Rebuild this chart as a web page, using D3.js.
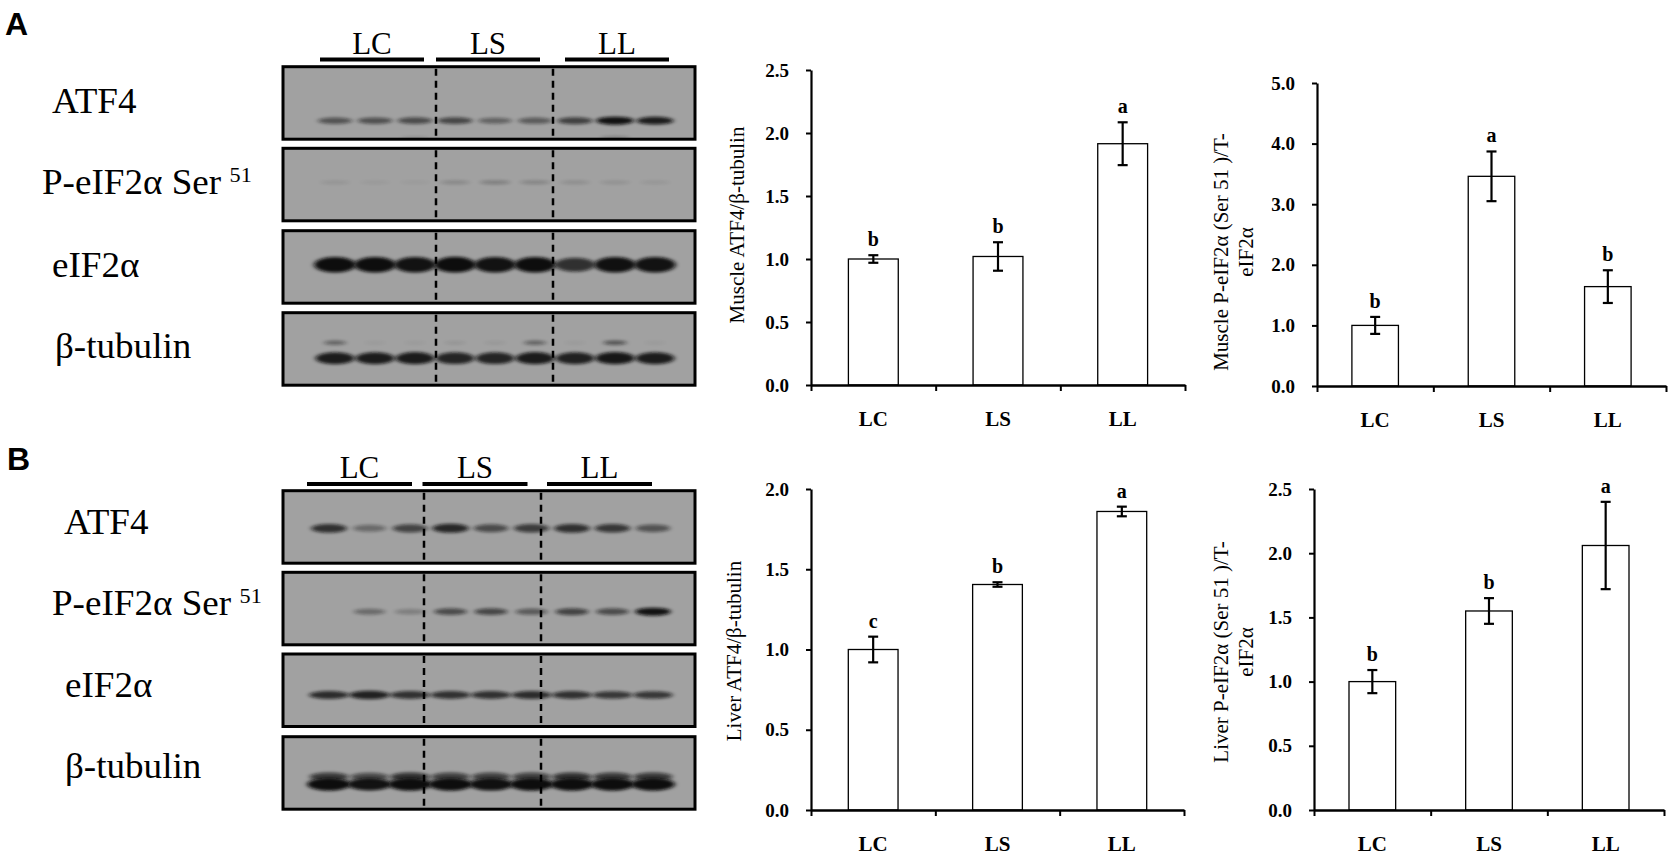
<!DOCTYPE html>
<html><head><meta charset="utf-8">
<script src="https://cdn.jsdelivr.net/npm/d3@7"></script>
<style>body{margin:0;background:#fff} svg{display:block} .serif{font-family:"Liberation Serif","Times New Roman",serif}</style>
</head><body>
<svg id="fig" width="1675" height="857"></svg>
<script>
// ---------- data ----------
const groups = ["LC","LS","LL"];
const lanes = ["LC1","LC2","LC3","LS1","LS2","LS3","LL1","LL2","LL3"];
const blotRowNames = ["ATF4","P-eIF2α Ser","eIF2α","β-tubulin"];
const superscript = "51";

// bar charts: mean, SEM, significance letters
const muscleATF4 = [1.00, 1.02, 1.915];
const muscleATF4Err = [0.03, 0.113, 0.17];
const muscleATF4Sig = ["b","b","a"];
const musclePeIF2 = [1.00, 3.46, 1.64];
const musclePeIF2Err = [0.14, 0.41, 0.27];
const musclePeIF2Sig = ["b","a","b"];
const liverATF4 = [1.00, 1.405, 1.86];
const liverATF4Err = [0.08, 0.014, 0.03];
const liverATF4Sig = ["c","b","a"];
const liverPeIF2 = [1.00, 1.55, 2.06];
const liverPeIF2Err = [0.09, 0.10, 0.34];
const liverPeIF2Sig = ["b","b","a"];

// tick values
const ticksA1 = [0,0.5,1.0,1.5,2.0,2.5];
const ticksA2 = [0,1,2,3,4,5];
const ticksB1 = [0,0.5,1.0,1.5,2.0];
const ticksB2 = [0,0.5,1.0,1.5,2.0,2.5];

// blot band densities (0-1), lanes LC1..LL3
const mATF4      = [0.50,0.52,0.55,0.58,0.40,0.45,0.62,0.92,0.85];
const mATF4Minor = [0.00,0.00,0.12,0.00,0.00,0.00,0.00,0.22,0.00];
const mPeIF2     = [0.08,0.05,0.04,0.16,0.22,0.18,0.12,0.10,0.07];
const mEIF2      = [0.95,0.95,0.92,0.96,0.92,0.95,0.72,0.93,0.92];
const mTub       = [0.85,0.85,0.86,0.80,0.80,0.86,0.82,0.88,0.85];
const mTubMinor  = [0.40,0.04,0.04,0.08,0.06,0.40,0.04,0.50,0.04];
const lATF4      = [0.72,0.35,0.60,0.78,0.55,0.65,0.72,0.68,0.50];
const lPeIF2     = [0.00,0.35,0.22,0.55,0.58,0.45,0.60,0.55,0.92];
const lEIF2      = [0.75,0.82,0.72,0.72,0.72,0.75,0.72,0.68,0.68];
const lTub       = [0.95,0.92,0.95,0.95,0.93,0.95,0.95,0.95,0.95];
const lTubMinor  = [0.65,0.55,0.70,0.60,0.60,0.60,0.70,0.65,0.65];

// ---------- drawing ----------
const fig = d3.select("#fig");
const defs = fig.append("defs");
defs.append("filter").attr("id","blur")
  .attr("x","-50%").attr("y","-300%").attr("width","200%").attr("height","700%")
  .append("feGaussianBlur").attr("stdDeviation","2.4 1.5");

const SERIF = "Liberation Serif";
const SANS = "Liberation Sans";

function panelLetter(t, x, y){
  fig.append("text").attr("x",x).attr("y",y).text(t)
    .attr("font-family",SANS).attr("font-weight","bold").attr("font-size",32);
}
panelLetter("A", 5, 35);
panelLetter("B", 7, 470);

function blot(cfg){
  const g = fig.append("g");
  const lx = d3.scalePoint().domain(lanes).range(cfg.laneRange);
  // group headers
  groups.forEach((gr,i)=>{
    const l0 = lx(lanes[i*3]), l2 = lx(lanes[i*3+2]);
    const a = l0 - 15 + cfg.groupShift[i], b = l2 + 9 + cfg.groupShift[i];
    g.append("line").attr("x1",a).attr("x2",b).attr("y1",cfg.barY).attr("y2",cfg.barY)
      .attr("stroke","#000").attr("stroke-width",4);
    g.append("text").attr("x",(a+b)/2).attr("y",cfg.barY-6).attr("text-anchor","middle")
      .attr("font-family",SERIF).attr("font-size",31).text(gr);
  });
  cfg.rows.forEach((row,ri)=>{
    const top = cfg.tops[ri];
    const id = cfg.id + "clip" + ri;
    defs.append("clipPath").attr("id",id).append("rect")
      .attr("x",cfg.x0).attr("y",top).attr("width",cfg.x1-cfg.x0).attr("height",cfg.h);
    g.append("rect").attr("x",cfg.x0).attr("y",top).attr("width",cfg.x1-cfg.x0).attr("height",cfg.h)
      .attr("fill","#a1a1a1");
    const bg = g.append("g").attr("clip-path",`url(#${id})`);
    row.bands.forEach(b=>{
      bg.selectAll(null).data(b.data).join("ellipse")
        .attr("cx",(d,i)=>lx(lanes[i]))
        .attr("cy",top + b.off)
        .attr("rx",d=>b.rx*(0.8+0.2*d))
        .attr("ry",d=>b.ry*(0.55+0.45*d))
        .attr("fill","#0c0c0c")
        .attr("opacity",d=>Math.min(1,d*1.05))
        .attr("filter","url(#blur)");
    });
    cfg.dividers.forEach(dx=>{
      g.append("line").attr("x1",dx).attr("x2",dx).attr("y1",top+2).attr("y2",top+cfg.h-2)
        .attr("stroke","#000").attr("stroke-width",2.5).attr("stroke-dasharray","7,5");
    });
    g.append("rect").attr("x",cfg.x0).attr("y",top).attr("width",cfg.x1-cfg.x0).attr("height",cfg.h)
      .attr("fill","none").attr("stroke","#000").attr("stroke-width",3);
    // row label (slightly widened like the original)
    const lxp = cfg.labelX[ri], lyp = cfg.labelY[ri];
    const t = g.append("text").attr("font-family",SERIF)
      .attr("transform",`translate(${lxp},${lyp}) scale(1.06,1)`)
      .attr("x",0).attr("y",0).attr("font-size",35);
    t.append("tspan").text(blotRowNames[ri]);
    if (ri===1) t.append("tspan").attr("dx",8).attr("dy",-12).attr("font-size",21).text(superscript);
  });
}

blot({
  id:"A", x0:283, x1:695, h:72.5, laneRange:[335,655], dividers:[436,553],
  tops:[66.7,148.3,230.7,312.7], barY:59.5, groupShift:[0,-4,5],
  labelX:[52,42,52,55], labelY:[112.7,194,276.7,358.3],
  rows:[
    {bands:[{data:mATF4,off:54,rx:19,ry:4.2},{data:mATF4Minor,off:71,rx:17,ry:2.5}]},
    {bands:[{data:mPeIF2,off:34,rx:18,ry:3.2}]},
    {bands:[{data:mEIF2,off:34,rx:21,ry:8}]},
    {bands:[{data:mTub,off:45.5,rx:20,ry:6.5},{data:mTubMinor,off:30,rx:13,ry:3}]}
  ]
});
blot({
  id:"B", x0:283, x1:695, h:72.5, laneRange:[329,653], dividers:[424,541],
  tops:[490.7,572.3,654,736.7], barY:484, groupShift:[-7,-13,-10],
  labelX:[64,52,65,65], labelY:[534,615,696.7,778],
  rows:[
    {bands:[{data:lATF4,off:37.6,rx:19,ry:5}]},
    {bands:[{data:lPeIF2,off:39.4,rx:18,ry:4.2}]},
    {bands:[{data:lEIF2,off:41,rx:21,ry:4.5}]},
    {bands:[{data:lTubMinor,off:40,rx:21,ry:5},{data:lTub,off:47.6,rx:22,ry:6.5}]}
  ]
});

function barChart(o){
  const g = fig.append("g");
  const x = d3.scaleBand().domain(groups).range([o.x0,o.x1]).padding(0);
  const xb = d3.scaleLinear().domain([0,groups.length]).range([o.x0,o.x1]);
  const y = d3.scaleLinear().domain([0,o.max]).range([o.y0,o.y1]);
  const bw = x.bandwidth();
  // bars
  g.selectAll(".bar").data(o.vals).join("rect")
    .attr("x",(d,i)=>x(groups[i])+bw*0.3).attr("width",bw*0.4)
    .attr("y",d=>y(d)).attr("height",d=>o.y0-y(d))
    .attr("fill","#fff").attr("stroke","#000").attr("stroke-width",1.3);
  // error bars
  o.vals.forEach((v,i)=>{
    const cx = x(groups[i])+bw/2, e = o.errs[i];
    const yt = y(v+e), yb = y(v-e);
    g.append("line").attr("x1",cx).attr("x2",cx).attr("y1",yt).attr("y2",yb).attr("stroke","#000").attr("stroke-width",2.2);
    [yt,yb].forEach(yy=>g.append("line").attr("x1",cx-5).attr("x2",cx+5).attr("y1",yy).attr("y2",yy).attr("stroke","#000").attr("stroke-width",2.2));
    g.append("text").attr("x",cx).attr("y",yt-9).attr("text-anchor","middle")
      .attr("font-family",SERIF).attr("font-weight","bold").attr("font-size",20).text(o.sig[i]);
  });
  // y axis
  const ya = g.append("g").attr("transform",`translate(${o.x0},0)`)
    .call(d3.axisLeft(y).tickValues(o.ticks).tickFormat(d3.format(".1f")).tickSize(5).tickSizeOuter(0).tickPadding(17));
  ya.attr("font-family",SERIF).attr("font-size",19).attr("font-weight","bold");
  ya.select(".domain").attr("stroke","#000").attr("stroke-width",2.2);
  ya.selectAll(".tick line").attr("stroke","#000").attr("stroke-width",2);
  ya.selectAll(".tick text").attr("fill","#000");
  // x axis
  const xa = g.append("g").attr("transform",`translate(0,${o.y0})`)
    .call(d3.axisBottom(xb).tickValues(d3.range(groups.length+1)).tickFormat("").tickSize(6).tickSizeOuter(0));
  xa.select(".domain").attr("stroke","#000").attr("stroke-width",2.4);
  xa.selectAll(".tick line").attr("stroke","#000").attr("stroke-width",2);
  g.selectAll(".xl").data(groups).join("text")
    .attr("x",d=>x(d)+bw/2).attr("y",o.y0+41).attr("text-anchor","middle")
    .attr("font-family",SERIF).attr("font-weight","bold").attr("font-size",21).text(d=>d);
  // y label
  const lab = g.append("g").attr("transform",`translate(${o.lx},${o.ly}) rotate(-90)`);
  o.label.forEach((s,i)=>{
    lab.append("text").attr("x",0).attr("y",i*25).attr("dy","0.35em").attr("text-anchor","middle")
      .attr("font-family",SERIF).attr("font-size",21).text(s);
  });
}

barChart({x0:811,x1:1185,y0:385,y1:70,max:2.5,ticks:ticksA1,vals:muscleATF4,errs:muscleATF4Err,sig:muscleATF4Sig,
  label:["Muscle ATF4/β-tubulin"],lx:737,ly:225});
barChart({x0:1317,x1:1666,y0:386,y1:83,max:5,ticks:ticksA2,vals:musclePeIF2,errs:musclePeIF2Err,sig:musclePeIF2Sig,
  label:["Muscle P-eIF2α (Ser 51 )/T-","eIF2α"],lx:1221,ly:252});
barChart({x0:811,x1:1184,y0:810,y1:489,max:2.0,ticks:ticksB1,vals:liverATF4,errs:liverATF4Err,sig:liverATF4Sig,
  label:["Liver ATF4/β-tubulin"],lx:734,ly:651});
barChart({x0:1314,x1:1664,y0:810,y1:489,max:2.5,ticks:ticksB2,vals:liverPeIF2,errs:liverPeIF2Err,sig:liverPeIF2Sig,
  label:["Liver P-eIF2α (Ser 51 )/T-","eIF2α"],lx:1221,ly:652});
</script>
</body></html>
